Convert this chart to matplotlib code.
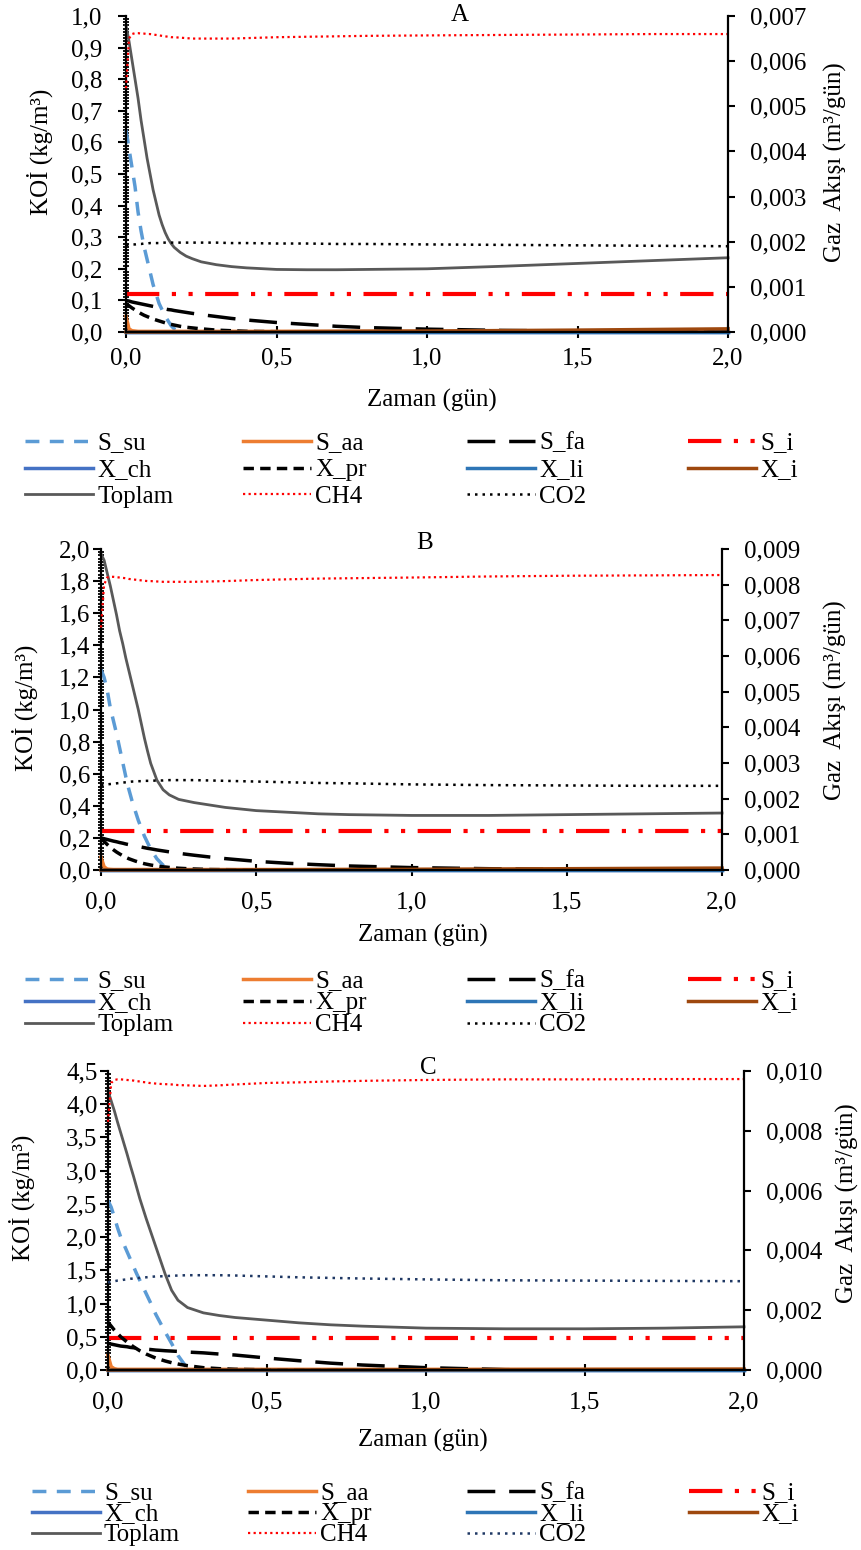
import matplotlib
matplotlib.use('Agg')
import matplotlib.pyplot as plt
from matplotlib.ticker import MultipleLocator, FuncFormatter
from matplotlib.lines import Line2D

plt.rcParams['font.family'] = ['Liberation Serif', 'DejaVu Serif']

# ---------------- data ----------------
t = [0, 0.01, 0.02, 0.03, 0.04, 0.05, 0.06, 0.07, 0.08, 0.09, 0.10, 0.11, 0.12, 0.13, 0.14,
     0.15, 0.16, 0.18, 0.20, 0.22, 0.25, 0.30, 0.35, 0.40, 0.50, 0.60, 0.70, 0.80, 1.00,
     1.25, 1.50, 1.75, 2.00]

# Panel A
A_S_su = [0.64, 0.58, 0.52, 0.46, 0.38, 0.32, 0.27, 0.23, 0.19, 0.15, 0.12, 0.09, 0.07, 0.05,
          0.035, 0.02, 0.01, 0.002, 0, 0, 0, 0, 0, 0, 0, 0, 0, 0, 0, 0, 0, 0, 0]
A_S_aa = [0.05, 0.01, 0.004, 0.003] + [0.002] * 29
A_S_fa = [0.100, 0.098, 0.095, 0.093, 0.091, 0.089, 0.087, 0.085, 0.083, 0.081, 0.079, 0.077,
          0.075, 0.073, 0.071, 0.070, 0.068, 0.065, 0.062, 0.059, 0.055, 0.049, 0.043, 0.038,
          0.030, 0.024, 0.018, 0.014, 0.009, 0.005, 0.003, 0.002, 0.001]
A_S_i = [0.12] * 33
A_X_ch = [0.0] * 33
A_X_pr = [0.090, 0.083, 0.076, 0.070, 0.064, 0.058, 0.053, 0.049, 0.045, 0.041, 0.038, 0.035,
          0.032, 0.029, 0.026, 0.024, 0.022, 0.018, 0.015, 0.013, 0.010, 0.006, 0.004, 0.002,
          0.001, 0, 0, 0, 0, 0, 0, 0, 0]
A_X_li = [0.0] * 33
A_X_i = [0] * 23 + [0.0005, 0.001, 0.0015, 0.002, 0.0025, 0.003, 0.0045, 0.006, 0.008, 0.010]
A_Toplam = [0.97, 0.92, 0.86, 0.80, 0.74, 0.67, 0.61, 0.55, 0.50, 0.45, 0.41, 0.37, 0.34,
            0.315, 0.295, 0.28, 0.268, 0.252, 0.240, 0.232, 0.222, 0.213, 0.207, 0.203,
            0.198, 0.197, 0.197, 0.198, 0.200, 0.208, 0.217, 0.226, 0.235]
A_CH4 = [0.0054, 0.0065, 0.0066, 0.00662, 0.00662, 0.00661, 0.00661, 0.0066, 0.0066, 0.00659,
         0.00658, 0.00657, 0.00656, 0.00655, 0.00654, 0.00653, 0.00653, 0.00652, 0.00651,
         0.0065, 0.0065, 0.0065, 0.0065, 0.00651, 0.00653, 0.00654, 0.00655, 0.00656,
         0.00657, 0.00658, 0.00659, 0.0066, 0.0066]
A_CO2 = [0.00193, 0.00193, 0.00194, 0.00194, 0.00195, 0.00195, 0.00196, 0.00196, 0.00197,
         0.00197, 0.00197, 0.00197, 0.00198, 0.00198, 0.00198, 0.00198, 0.00198, 0.00198,
         0.00198, 0.00198, 0.00198, 0.00198, 0.00197, 0.00197, 0.00196, 0.00196, 0.00195,
         0.00195, 0.00194, 0.00193, 0.00192, 0.00191, 0.0019]

# Panel B
B_S_su = [1.25, 1.20, 1.12, 1.01, 0.93, 0.85, 0.76, 0.67, 0.58, 0.50, 0.43, 0.37, 0.31, 0.26,
          0.21, 0.17, 0.13, 0.07, 0.03, 0.005, 0, 0, 0, 0, 0, 0, 0, 0, 0, 0, 0, 0, 0]
B_S_aa = [0.08, 0.02, 0.006, 0.004] + [0.003] * 29
B_S_fa = [0.200, 0.195, 0.190, 0.185, 0.180, 0.176, 0.171, 0.167, 0.162, 0.158, 0.154, 0.150,
          0.146, 0.143, 0.139, 0.135, 0.132, 0.125, 0.119, 0.113, 0.104, 0.092, 0.081, 0.071,
          0.054, 0.042, 0.033, 0.025, 0.015, 0.008, 0.004, 0.002, 0.001]
B_S_i = [0.24] * 33
B_X_ch = [0.0] * 33
B_X_pr = [0.200, 0.178, 0.159, 0.141, 0.126, 0.112, 0.100, 0.089, 0.079, 0.070, 0.063, 0.056,
          0.050, 0.044, 0.039, 0.035, 0.031, 0.025, 0.020, 0.016, 0.011, 0.006, 0.003, 0.002,
          0.001, 0, 0, 0, 0, 0, 0, 0, 0]
B_X_li = [0.0] * 33
B_X_i = [0] * 23 + [0.0005, 0.0012, 0.0018, 0.0025, 0.003, 0.004, 0.006, 0.008, 0.010, 0.012]
B_Toplam = [1.97, 1.93, 1.85, 1.77, 1.68, 1.59, 1.49, 1.41, 1.32, 1.24, 1.16, 1.08, 1.00,
            0.91, 0.82, 0.74, 0.665, 0.56, 0.50, 0.468, 0.44, 0.42, 0.405, 0.39, 0.37, 0.36,
            0.35, 0.345, 0.34, 0.34, 0.345, 0.35, 0.355]
B_CH4 = [0.0068, 0.0080, 0.0082, 0.00822, 0.00822, 0.00821, 0.0082, 0.00819, 0.00818, 0.00816,
         0.00815, 0.00814, 0.00813, 0.00812, 0.00811, 0.0081, 0.0081, 0.00809, 0.00808,
         0.00808, 0.00808, 0.00808, 0.00809, 0.0081, 0.00813, 0.00815, 0.00817, 0.00818,
         0.0082, 0.00823, 0.00825, 0.00826, 0.00827]
B_CO2 = [0.00238, 0.00239, 0.0024, 0.00241, 0.00242, 0.00243, 0.00244, 0.00245, 0.00246,
         0.00247, 0.00248, 0.00248, 0.00249, 0.00249, 0.0025, 0.0025, 0.0025, 0.00251,
         0.00251, 0.00252, 0.00252, 0.00252, 0.00251, 0.0025, 0.00248, 0.00246, 0.00244,
         0.00243, 0.0024, 0.00238, 0.00237, 0.00236, 0.00236]

# Panel C
C_S_su = [2.55, 2.45, 2.30, 2.14, 2.00, 1.89, 1.78, 1.67, 1.56, 1.45, 1.35, 1.25, 1.15, 1.05,
          0.95, 0.84, 0.75, 0.57, 0.40, 0.22, 0.02, 0, 0, 0, 0, 0, 0, 0, 0, 0, 0, 0, 0]
C_S_aa = [0.22, 0.05, 0.02] + [0.01] * 30
C_S_fa = [0.40, 0.39, 0.38, 0.37, 0.36, 0.355, 0.35, 0.34, 0.335, 0.33, 0.325, 0.32, 0.315,
          0.31, 0.305, 0.30, 0.297, 0.29, 0.285, 0.28, 0.27, 0.258, 0.24, 0.225, 0.18, 0.14,
          0.103, 0.075, 0.035, 0.005, 0, 0, 0]
C_S_i = [0.48] * 33
C_X_ch = [0.0] * 33
C_X_pr = [0.72, 0.66, 0.60, 0.55, 0.50, 0.46, 0.42, 0.385, 0.35, 0.32, 0.29, 0.265, 0.24,
          0.22, 0.20, 0.18, 0.165, 0.135, 0.11, 0.09, 0.065, 0.035, 0.02, 0.01, 0.003,
          0, 0, 0, 0, 0, 0, 0, 0]
C_X_li = [0.0] * 33
C_X_i = [0] * 23 + [0.0005, 0.0012, 0.0018, 0.0025, 0.003, 0.004, 0.006, 0.008, 0.010, 0.012]
C_Toplam = [4.20, 4.05, 3.90, 3.73, 3.57, 3.41, 3.25, 3.08, 2.92, 2.75, 2.58, 2.43, 2.28,
            2.14, 2.00, 1.86, 1.72, 1.44, 1.20, 1.05, 0.94, 0.86, 0.82, 0.79, 0.75, 0.71,
            0.68, 0.66, 0.63, 0.62, 0.62, 0.63, 0.65]
C_CH4 = [0.0083, 0.0096, 0.0097, 0.00972, 0.00972, 0.00971, 0.0097, 0.00969, 0.00968,
         0.00966, 0.00965, 0.00963, 0.00962, 0.0096, 0.00959, 0.00958, 0.00957, 0.00956,
         0.00955, 0.00953, 0.00952, 0.0095, 0.00952, 0.00955, 0.0096, 0.00962, 0.00965,
         0.00967, 0.0097, 0.00972, 0.00972, 0.00973, 0.00973]
C_CO2 = [0.00293, 0.00295, 0.00297, 0.00299, 0.003, 0.00302, 0.00303, 0.00305, 0.00306,
         0.00307, 0.00308, 0.00309, 0.0031, 0.00311, 0.00312, 0.00313, 0.00313, 0.00314,
         0.00315, 0.00316, 0.00317, 0.00317, 0.00317, 0.00316, 0.00313, 0.0031, 0.00308,
         0.00306, 0.00303, 0.003, 0.00299, 0.00298, 0.00297]

left_names = ['S_su', 'S_aa', 'S_fa', 'S_i', 'X_ch', 'X_pr', 'X_li', 'X_i', 'Toplam']
gas_names = ['CH4', 'CO2']
panel_titles = ['A', 'B', 'C']
xlabel = 'Zaman (gün)'
ylabel_left = 'KOİ (kg/m³)'
ylabel_right = 'Gaz  Akışı (m³/gün)'

panels = {
    'A': dict(S_su=A_S_su, S_aa=A_S_aa, S_fa=A_S_fa, S_i=A_S_i, X_ch=A_X_ch, X_pr=A_X_pr,
              X_li=A_X_li, X_i=A_X_i, Toplam=A_Toplam, CH4=A_CH4, CO2=A_CO2),
    'B': dict(S_su=B_S_su, S_aa=B_S_aa, S_fa=B_S_fa, S_i=B_S_i, X_ch=B_X_ch, X_pr=B_X_pr,
              X_li=B_X_li, X_i=B_X_i, Toplam=B_Toplam, CH4=B_CH4, CO2=B_CO2),
    'C': dict(S_su=C_S_su, S_aa=C_S_aa, S_fa=C_S_fa, S_i=C_S_i, X_ch=C_X_ch, X_pr=C_X_pr,
              X_li=C_X_li, X_i=C_X_i, Toplam=C_Toplam, CH4=C_CH4, CO2=C_CO2),
}

# ---------------- styles / layout ----------------
styles = {
    'S_su': dict(color='#5B9BD5', lw=2.5, ls=(0, (4, 3))),
    'S_aa': dict(color='#ED7D31', lw=2.5, ls='-'),
    'S_fa': dict(color='black', lw=2.5, ls=(0, (8, 4))),
    'S_i': dict(color='#FF0000', lw=3, ls=(0, (8, 3, 1, 3, 1, 3))),
    'X_ch': dict(color='#4472C4', lw=2.5, ls='-'),
    'X_pr': dict(color='black', lw=2.5, ls=(0, (3, 1.8))),
    'X_li': dict(color='#2E75B6', lw=2.5, ls='-'),
    'X_i': dict(color='#9E480E', lw=2.5, ls='-'),
    'Toplam': dict(color='#595959', lw=2.0, ls='-'),
    'CH4': dict(color='#FF0000', lw=1.6, ls=(0, (1, 1.5))),
    'CO2': dict(color='black', lw=1.8, ls=(0, (1, 2))),
}
co2_colors = {'A': 'black', 'B': 'black', 'C': '#1F3864'}

W, H = 861, 1550
fig = plt.figure(figsize=(W / 100, H / 100), dpi=100)

layout = {
    'A': dict(box=(126, 728, 16, 332), ymax=1.0, ymaj=0.1, ymin=0.01, ydec=1,
              y2max=0.007, y2maj=0.001, y2dec=3, lpad=11.3, xpad=6.8,
              title=(460, 15), yl=(40, 152), yr=(835, 162), xl=(432, 400),
              lcols=[25, 243, 467, 688], lrows=[443, 470, 497]),
    'B': dict(box=(101, 722, 549, 870), ymax=2.0, ymaj=0.2, ymin=0.02, ydec=1,
              y2max=0.009, y2maj=0.001, y2dec=3, lpad=2.0, xpad=11.8,
              title=(425, 543), yl=(25, 708), yr=(835, 700), xl=(423, 935),
              lcols=[25, 243, 467, 688], lrows=[981, 1003, 1025]),
    'C': dict(box=(108, 744, 1071, 1370), ymax=4.5, ymaj=0.5, ymin=0.05, ydec=1,
              y2max=0.010, y2maj=0.002, y2dec=3, lpad=1.5, xpad=11.8,
              title=(428, 1068), yl=(22, 1198), yr=(847, 1203), xl=(423, 1440),
              lcols=[32, 248, 467, 689], lrows=[1493, 1514, 1535]),
}

FS = 18


def fmt(dec):
    return FuncFormatter(lambda v, p: f"{v:.{dec}f}".replace('.', ','))


legend_order = [['S_su', 'X_ch', 'Toplam'], ['S_aa', 'X_pr', 'CH4'],
                ['S_fa', 'X_li', 'CO2'], ['S_i', 'X_i']]

for key in panel_titles:
    L = layout[key]
    data = panels[key]
    l, r, tp, b = L['box']
    ax = fig.add_axes([l / W, 1 - b / H, (r - l) / W, (b - tp) / H])
    ax2 = ax.twinx()
    for name in left_names:
        st = styles[name]
        ax.plot(t, data[name], color=st['color'], lw=st['lw'], linestyle=st['ls'],
                clip_on=False)
    for name in gas_names:
        st = styles[name]
        col = co2_colors[key] if name == 'CO2' else st['color']
        ax2.plot(t, data[name], color=col, lw=st['lw'], linestyle=st['ls'], clip_on=False)

    ax.set_xlim(0, 2.0)
    ax.set_ylim(0, L['ymax'])
    ax2.set_ylim(0, L['y2max'])
    ax.xaxis.set_major_locator(MultipleLocator(0.5))
    ax.xaxis.set_major_formatter(fmt(1))
    ax.yaxis.set_major_locator(MultipleLocator(L['ymaj']))
    ax.yaxis.set_minor_locator(MultipleLocator(L['ymin']))
    ax.yaxis.set_major_formatter(fmt(L['ydec']))
    ax2.yaxis.set_major_locator(MultipleLocator(L['y2maj']))
    ax2.yaxis.set_major_formatter(fmt(L['y2dec']))

    for sp in ['top', 'right']:
        ax.spines[sp].set_visible(False)
    ax2.spines['top'].set_visible(False)
    ax2.spines['left'].set_visible(False)
    ax2.spines['bottom'].set_visible(False)
    for sp in ['left', 'bottom']:
        ax.spines[sp].set_linewidth(1.6)
    ax2.spines['right'].set_linewidth(1.6)

    ax.tick_params(axis='y', which='major', direction='out', length=6, width=1.5,
                   labelsize=FS, pad=L['lpad'])
    ax.tick_params(axis='y', which='minor', direction='inout', length=5, width=1.3)
    ax.tick_params(axis='x', which='major', direction='inout', length=8, width=1.5,
                   labelsize=FS, pad=L['xpad'])
    ax2.tick_params(axis='y', which='major', direction='out', length=5, width=1.5,
                    labelsize=FS, pad=10.8)

    fig.text(L['title'][0] / W, 1 - L['title'][1] / H, key, fontsize=FS,
             ha='center', va='center')
    fig.text(L['yl'][0] / W, 1 - L['yl'][1] / H, ylabel_left, fontsize=FS,
             rotation=90, ha='center', va='center')
    fig.text(L['yr'][0] / W, 1 - L['yr'][1] / H, ylabel_right, fontsize=FS,
             rotation=90, ha='center', va='center')
    fig.text(L['xl'][0] / W, 1 - L['xl'][1] / H, xlabel, fontsize=FS,
             ha='center', va='center')

    for ci, col in enumerate(legend_order):
        for ri, name in enumerate(col):
            st = styles[name]
            c = co2_colors[key] if name == 'CO2' else st['color']
            proxy = Line2D([], [], color=c, lw=st['lw'], linestyle=st['ls'])
            fig.legend([proxy], [name], loc='center left',
                       bbox_to_anchor=(L['lcols'][ci] / W, 1 - L['lrows'][ri] / H),
                       frameon=False, borderpad=0, borderaxespad=0,
                       handlelength=2.72, handletextpad=0.16, fontsize=FS)

fig.savefig('out.png', dpi=100)
